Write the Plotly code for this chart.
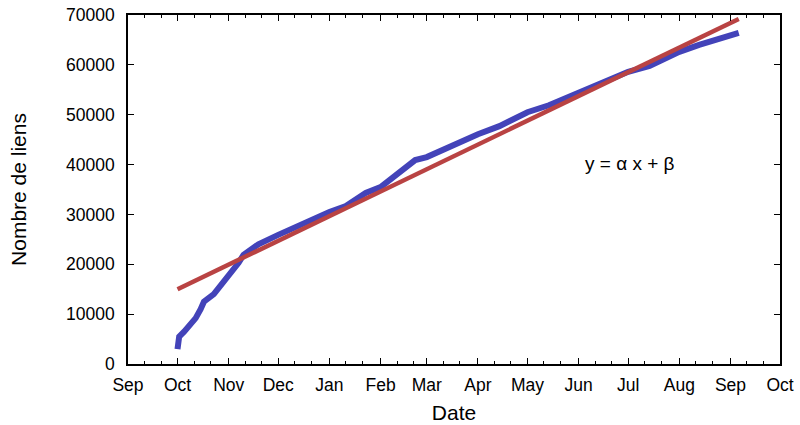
import plotly.graph_objects as go
import pandas as pd

# Blue series: number of links over time
dates = ["2008-10-01", "2008-10-02", "2008-10-05", "2008-10-08", "2008-10-12", "2008-10-15",
         "2008-10-17", "2008-10-23", "2008-10-28",
         "2008-11-01", "2008-11-07", "2008-11-10", "2008-11-19", "2008-12-01", "2008-12-13",
         "2008-12-25", "2009-01-01", "2009-01-11", "2009-01-23", "2009-02-01", "2009-02-11",
         "2009-02-22", "2009-03-01", "2009-03-14", "2009-04-01", "2009-04-14", "2009-05-01",
         "2009-05-14", "2009-06-01", "2009-06-14", "2009-07-01", "2009-07-14", "2009-08-01",
         "2009-08-13", "2009-08-25", "2009-09-06"]
links = [3000, 5500, 6500, 7600, 9200, 11000,
         12500, 14000, 16000,
         17800, 20300, 21900, 24000, 25900, 27700,
         29700, 30500, 31700, 34300, 35500, 37900,
         40900, 41500, 43500, 46100, 47700, 50500,
         51900, 54300, 56200, 58600, 59800, 62600,
         64000, 65200, 66400]

# Red linear fit line
fit_dates = ["2008-10-01", "2009-09-06"]
fit_values = [15000, 69200]

# Axis ticks
month_ticks = pd.date_range("2008-09-01", "2009-10-01", freq="MS")
month_labels = [d.strftime("%b") for d in month_ticks]
minor_ticks = [d + pd.Timedelta(days=k) for d in month_ticks[:-1] for k in (10, 20)]

y_ticks = list(range(0, 70001, 10000))

blue = "#4343b9"
red = "#b94343"

fig = go.Figure()
fig.add_trace(go.Scatter(x=dates, y=links, mode="lines",
                         line=dict(color=blue, width=6), showlegend=False))
fig.add_trace(go.Scatter(x=fit_dates, y=fit_values, mode="lines",
                         line=dict(color=red, width=4.5), showlegend=False))

font = dict(family="Liberation Sans, Arial, sans-serif", size=17.5, color="black")

fig.update_layout(
    width=800, height=425,
    margin=dict(l=128, r=20, t=15, b=61, autoexpand=False),
    paper_bgcolor="white", plot_bgcolor="white",
    font=font,
    xaxis=dict(
        range=["2008-09-01", "2009-10-01"],
        tickmode="array", tickvals=month_ticks, ticktext=month_labels,
        ticks="inside", ticklen=6, tickwidth=1, tickcolor="black",
        ticklabelstandoff=4, automargin=False,
        minor=dict(tickmode="array", tickvals=minor_ticks, ticks="inside",
                   ticklen=3, tickwidth=1, tickcolor="black", showgrid=False),
        showline=True, linecolor="black", linewidth=1.5, mirror="ticks",
        showgrid=False, zeroline=False,
        title=dict(text="Date", standoff=12),
    ),
    yaxis=dict(
        range=[0, 70000],
        tickmode="array", tickvals=y_ticks, ticktext=[str(v) for v in y_ticks],
        ticks="inside", ticklen=6, tickwidth=1, tickcolor="black",
        ticklabelstandoff=8, automargin=False,
        showline=True, linecolor="black", linewidth=1.5, mirror="ticks",
        showgrid=False, zeroline=False,
        title=dict(text="Nombre de liens", standoff=34),
    ),
    annotations=[dict(x="2009-07-02", y=40300, text="y = α x + β", showarrow=False,
                      font=dict(family="Liberation Sans, Arial, sans-serif", size=19, color="black"))],
)

fig.write_html("out.html")
